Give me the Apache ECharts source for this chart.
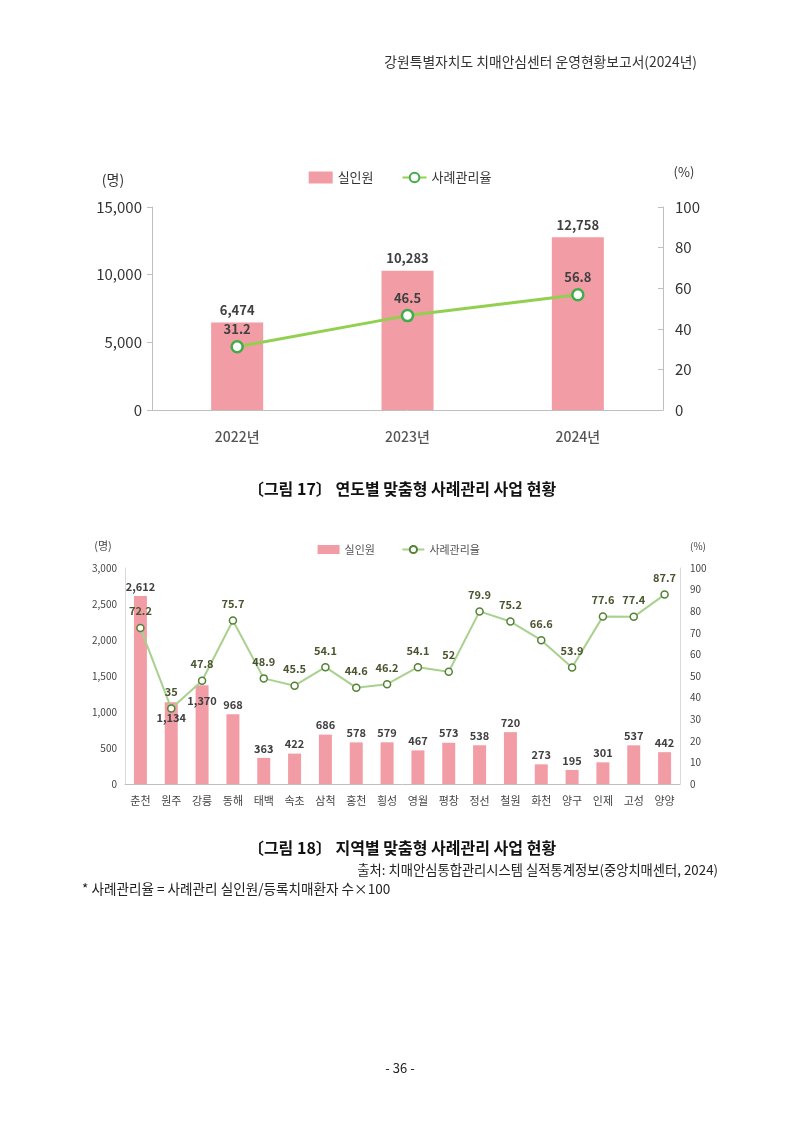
<!DOCTYPE html>
<html>
<head>
<meta charset="utf-8">
<script src="https://cdn.jsdelivr.net/npm/echarts@6/dist/echarts.min.js"></script>
<style>
  html, body { margin: 0; padding: 0; background: #fff; }
  #page { width: 800px; height: 1131px; }
</style>
</head>
<body>
<div id="page"></div>
<script>
// 그림 17 - 연도별
var years = ['2022년', '2023년', '2024년'];
var people17 = [6474, 10283, 12758];
var rate17 = [31.2, 46.5, 56.8];

// 그림 18 - 지역별
var regions = ['춘천', '원주', '강릉', '동해', '태백', '속초', '삼척', '홍천', '횡성', '영월', '평창', '정선', '철원', '화천', '양구', '인제', '고성', '양양'];
var people18 = [2612, 1134, 1370, 968, 363, 422, 686, 578, 579, 467, 573, 538, 720, 273, 195, 301, 537, 442];
var rate18 = [72.2, 35, 47.8, 75.7, 48.9, 45.5, 54.1, 44.6, 46.2, 54.1, 52, 79.9, 75.2, 66.6, 53.9, 77.6, 77.4, 87.7];

var FONT = '"Noto Sans CJK KR", "Noto Sans", sans-serif';
var PINK = '#F29CA5';
var GREEN = '#92D050';
var AXIS = '#BFBFBF';

var myChart = echarts.init(document.getElementById('page'));

function fmt(v) {
  return v.value.toLocaleString('en-US');
}

// 원주, 강릉 막대 라벨은 막대 안쪽에 표시됨
var bars18 = people18.map(function (v, i) {
  if (i === 1 || i === 2) {
    return { value: v, label: { position: 'insideTop', distance: 10 } };
  }
  return v;
});

function text(x, y, str, size, opts) {
  opts = opts || {};
  return {
    type: 'text', x: x, y: y,
    style: {
      text: str, font: (opts.weight || 'normal') + ' ' + size + 'px ' + FONT,
      fill: opts.color || '#222', textAlign: opts.align || 'left', textVerticalAlign: 'middle'
    }
  };
}

var option = {
  backgroundColor: '#fff',
  textStyle: { fontFamily: FONT },
  animation: false,
  graphic: [
    text(697, 62, '강원특별자치도 치매안심센터 운영현황보고서(2024년)', 13.8, { align: 'right', color: '#333' }),
    text(113, 180, '(명)', 14, { align: 'center', color: '#333' }),
    text(684, 172, '(%)', 13, { align: 'center', color: '#333' }),
    text(402, 489, '〔그림 17〕 연도별 맞춤형 사례관리 사업 현황', 16, { align: 'center', color: '#111', weight: 'bold' }),
    text(103, 546, '(명)', 11, { align: 'center', color: '#444' }),
    text(698, 546, '(%)', 10, { align: 'center', color: '#444' }),
    text(402, 848, '〔그림 18〕 지역별 맞춤형 사례관리 사업 현황', 16, { align: 'center', color: '#111', weight: 'bold' }),
    text(718, 870, '출처: 치매안심통합관리시스템 실적통계정보(중앙치매센터, 2024)', 13.3, { align: 'right', color: '#222' }),
    text(82, 889, '* 사례관리율 = 사례관리 실인원/등록치매환자 수×100', 13.6, { color: '#222' }),
    text(400, 1068, '- 36 -', 13, { align: 'center', color: '#222' })
  ],
  legend: [
    {
      top: 166, left: 'center', itemWidth: 24, itemHeight: 12, itemGap: 28,
      textStyle: { fontSize: 13, color: '#333', fontFamily: FONT },
      data: [{ name: '실인원', icon: 'rect' }, '사례관리율']
    },
    {
      top: 539, left: 'center', itemWidth: 22, itemHeight: 9, itemGap: 24,
      textStyle: { fontSize: 11, color: '#555', fontFamily: FONT },
      data: [{ name: '실인원 ', icon: 'rect' }, '사례관리율 ']
    }
  ],
  grid: [
    { left: 152, right: 137, top: 207, height: 203 },
    { left: 125, right: 120, top: 568, height: 216 }
  ],
  xAxis: [
    {
      type: 'category', gridIndex: 0, data: years,
      axisLine: { lineStyle: { color: AXIS } },
      axisTick: { show: false },
      axisLabel: { margin: 20, fontSize: 14, color: '#555', fontWeight: 500 }
    },
    {
      type: 'category', gridIndex: 1, data: regions,
      axisLine: { lineStyle: { color: AXIS } },
      axisTick: { show: false },
      axisLabel: { margin: 11, fontSize: 11, color: '#444', interval: 0 }
    }
  ],
  yAxis: [
    {
      type: 'value', gridIndex: 0, min: 0, max: 15000, interval: 5000,
      axisLine: { show: true, lineStyle: { color: AXIS } },
      axisTick: { show: true, length: 5, lineStyle: { color: AXIS } },
      splitLine: { show: false },
      axisLabel: { margin: 10, fontSize: 15, color: '#333', formatter: function (v) { return v.toLocaleString('en-US'); } }
    },
    {
      type: 'value', gridIndex: 0, position: 'right', min: 0, max: 100, interval: 20,
      axisLine: { show: true, lineStyle: { color: AXIS } },
      axisTick: { show: true, inside: true, length: 5, lineStyle: { color: AXIS } },
      splitLine: { show: false },
      axisLabel: { margin: 12, fontSize: 15, color: '#333' }
    },
    {
      type: 'value', gridIndex: 1, min: 0, max: 3000, interval: 500,
      axisLine: { show: true, lineStyle: { color: '#D9D9D9' } },
      axisTick: { show: false },
      splitLine: { show: false },
      axisLabel: { margin: 8, fontSize: 10, color: '#444', formatter: function (v) { return v.toLocaleString('en-US'); } }
    },
    {
      type: 'value', gridIndex: 1, position: 'right', min: 0, max: 100, interval: 10,
      axisLine: { show: true, lineStyle: { color: '#D9D9D9' } },
      axisTick: { show: false },
      splitLine: { show: false },
      axisLabel: { margin: 10, fontSize: 10, color: '#444' }
    }
  ],
  series: [
    {
      name: '실인원', type: 'bar', xAxisIndex: 0, yAxisIndex: 0, data: people17,
      barWidth: 52, itemStyle: { color: PINK },
      label: { show: true, position: 'top', distance: 6, fontSize: 13, fontWeight: 'bold', color: '#404040', formatter: fmt }
    },
    {
      name: '사례관리율', type: 'line', xAxisIndex: 0, yAxisIndex: 1, data: rate17,
      symbol: 'circle', symbolSize: 11,
      lineStyle: { color: GREEN, width: 3 },
      itemStyle: { color: '#fff', borderColor: '#3FAE49', borderWidth: 2.5 },
      label: { show: true, position: 'top', distance: 4, fontSize: 13, fontWeight: 'bold', color: '#404040' }
    },
    {
      name: '실인원 ', type: 'bar', xAxisIndex: 1, yAxisIndex: 2, data: bars18,
      barWidth: 13, itemStyle: { color: PINK },
      label: { show: true, position: 'top', distance: 4, fontSize: 11, fontWeight: 'bold', color: '#404040', formatter: fmt }
    },
    {
      name: '사례관리율 ', type: 'line', xAxisIndex: 1, yAxisIndex: 3, data: rate18,
      symbol: 'circle', symbolSize: 7,
      lineStyle: { color: '#A9D18E', width: 2 },
      itemStyle: { color: '#fff', borderColor: '#548235', borderWidth: 1.5 },
      label: { show: true, position: 'top', distance: 7, fontSize: 11, fontWeight: 'bold', color: '#4A5530' }
    }
  ]
};

myChart.setOption(option);
</script>
</body>
</html>
